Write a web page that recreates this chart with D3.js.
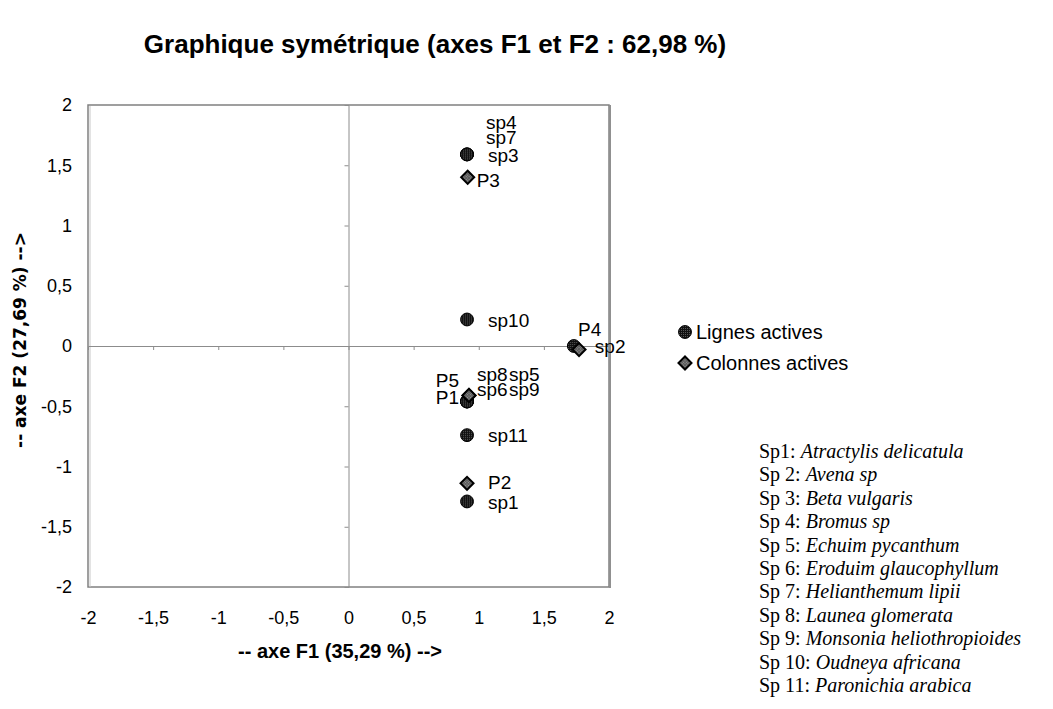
<!DOCTYPE html>
<html>
<head>
<meta charset="utf-8">
<script src="https://cdn.jsdelivr.net/npm/d3@7"></script>
<style>
  body { margin: 0; background: #fff; }
  text { font-family: Arial, "Liberation Sans", sans-serif; }
</style>
</head>
<body>
<div id="chart"></div>
<script>
// data
var rowNames = ['sp1', 'sp2', 'sp3', 'sp4', 'sp5', 'sp6', 'sp7', 'sp8', 'sp9', 'sp10', 'sp11'];
var rowF1 = [0.91, 1.73, 0.91, 0.91, 0.91, 0.91, 0.91, 0.91, 0.91, 0.91, 0.91];
var rowF2 = [-1.29, 0.00, 1.59, 1.59, -0.46, -0.46, 1.59, -0.46, -0.46, 0.22, -0.74];

var colNames = ['P1', 'P2', 'P3', 'P4', 'P5'];
var colF1 = [0.925, 0.91, 0.915, 1.77, 0.925];
var colF2 = [-0.41, -1.14, 1.40, -0.03, -0.41];

var ticks = [-2, -1.5, -1, -0.5, 0, 0.5, 1, 1.5, 2];

var speciesCodes = ['Sp1: ', 'Sp 2: ', 'Sp 3: ', 'Sp 4: ', 'Sp 5: ', 'Sp 6: ', 'Sp 7: ', 'Sp 8: ', 'Sp 9: ', 'Sp 10: ', 'Sp 11: '];
var speciesNames = ['Atractylis delicatula', 'Avena sp', 'Beta vulgaris', 'Bromus sp', 'Echuim pycanthum',
  'Eroduim glaucophyllum', 'Helianthemum lipii', 'Launea glomerata', 'Monsonia heliothropioides',
  'Oudneya africana', 'Paronichia arabica'];

// label placement (pixel offsets from the point)
var labelPos = {
  sp4: [19, -32, 'start'], sp7: [19, -17, 'start'], sp3: [21, 1, 'start'],
  sp10: [21, 1, 'start'], sp2: [21, 0, 'start'], sp11: [21, 0, 'start'], sp1: [21, 1, 'start'],
  sp8: [10, -27, 'start'], sp5: [42, -27, 'start'], sp6: [10, -12, 'start'], sp9: [42, -12, 'start'],
  P3: [9, 3, 'start'], P4: [-1, -20, 'start'], P5: [-10, -15, 'end'], P1: [-10, 2, 'end'], P2: [21, -1, 'start']
};

var width = 1053, height = 709;
var svg = d3.select('#chart').append('svg')
  .attr('width', width)
  .attr('height', height);

var pLeft = 88, pRight = 609, pTop = 105, pBottom = 587;

var x = d3.scaleLinear().domain([-2, 2]).range([pLeft, pRight]);
var y = d3.scaleLinear().domain([-2, 2]).range([pBottom, pTop]);

var fmt = d3.formatLocale({ decimal: ',', thousands: ' ', grouping: [3], currency: ['', ''], minus: '-' }).format('~g');

// title
svg.append('text')
  .attr('x', 435).attr('y', 53)
  .attr('text-anchor', 'middle')
  .style('font-size', '26px').style('font-weight', 'bold')
  .text('Graphique symétrique (axes F1 et F2 : 62,98 %)');

// frame
svg.append('rect')
  .attr('x', pLeft).attr('y', pTop)
  .attr('width', pRight - pLeft).attr('height', pBottom - pTop)
  .attr('fill', 'none').attr('stroke', '#808080').attr('stroke-width', 1.5);
svg.append('line')
  .attr('x1', pLeft + 2).attr('x2', pLeft + 2).attr('y1', pTop + 1).attr('y2', pBottom)
  .attr('stroke', '#c8c8c8').attr('stroke-width', 1);
svg.append('line')
  .attr('x1', pRight + 1).attr('x2', pRight + 1).attr('y1', pTop).attr('y2', pBottom + 1)
  .attr('stroke', '#909090').attr('stroke-width', 2);

// zero lines with small ticks
svg.append('g')
  .attr('transform', 'translate(0,' + y(0) + ')')
  .call(d3.axisBottom(x).tickValues(ticks.slice(1, -1)).tickSize(4).tickFormat(''))
  .call(function(g) {
    g.select('.domain').attr('stroke', '#8c8c8c');
    g.selectAll('.tick line').attr('stroke', '#8c8c8c');
  });
svg.append('g')
  .attr('transform', 'translate(' + x(0) + ',0)')
  .call(d3.axisLeft(y).tickValues(ticks.slice(1, -1)).tickSize(4).tickFormat(''))
  .call(function(g) {
    g.select('.domain').attr('stroke', '#8c8c8c');
    g.selectAll('.tick line').attr('stroke', '#8c8c8c');
  });

// tick labels on the low sides
svg.append('g')
  .attr('transform', 'translate(0,' + pBottom + ')')
  .call(d3.axisBottom(x).tickValues(ticks).tickSize(0).tickPadding(24).tickFormat(fmt))
  .call(function(g) {
    g.select('.domain').remove();
    g.selectAll('text').style('font-size', '18px').attr('fill', '#000')
      .style('font-family', 'Arial, "Liberation Sans", sans-serif');
  });
svg.append('g')
  .attr('transform', 'translate(' + pLeft + ',0)')
  .call(d3.axisLeft(y).tickValues(ticks).tickSize(0).tickPadding(16).tickFormat(fmt))
  .call(function(g) {
    g.select('.domain').remove();
    g.selectAll('text').style('font-size', '18px').attr('fill', '#000')
      .style('font-family', 'Arial, "Liberation Sans", sans-serif');
  });

// axis titles
svg.append('text')
  .attr('x', 340).attr('y', 658)
  .attr('text-anchor', 'middle')
  .style('font-size', '20px').style('font-weight', 'bold')
  .text('-- axe F1 (35,29 %) -->');
svg.append('text')
  .attr('transform', 'translate(26,340) rotate(-90)')
  .attr('text-anchor', 'middle')
  .style('font-size', '17px').style('font-weight', 'bold')
  .style('font-family', '"DejaVu Sans", Verdana, sans-serif')
  .text('-- axe F2 (27,69 %) -->');

// markers
var defs = svg.append('defs');
var pat = defs.append('pattern')
  .attr('id', 'dots').attr('width', 2).attr('height', 2)
  .attr('patternUnits', 'userSpaceOnUse');
pat.append('rect').attr('width', 2).attr('height', 2).attr('fill', '#111');
pat.append('rect').attr('width', 1).attr('height', 1).attr('fill', '#555');

var pat2 = defs.append('pattern')
  .attr('id', 'dots2').attr('width', 2).attr('height', 2)
  .attr('patternUnits', 'userSpaceOnUse');
pat2.append('rect').attr('width', 2).attr('height', 2).attr('fill', '#5a5a5a');
pat2.append('rect').attr('width', 1).attr('height', 1).attr('fill', '#9a9a9a');

var circleSym = d3.symbol().type(d3.symbolCircle).size(130);
var diamondSym = d3.symbol().type(d3.symbolSquare).size(85);

function drawCircle(sel, px, py) {
  sel.append('path')
    .attr('d', circleSym)
    .attr('transform', 'translate(' + px + ',' + py + ')')
    .attr('fill', 'url(#dots)').attr('stroke', '#000').attr('stroke-width', 1);
}
function drawDiamond(sel, px, py) {
  sel.append('path')
    .attr('d', diamondSym)
    .attr('transform', 'translate(' + px + ',' + py + ') rotate(45)')
    .attr('fill', 'url(#dots2)').attr('stroke', '#000').attr('stroke-width', 2);
}

var pts = svg.append('g');
rowNames.forEach(function(n, i) {
  drawCircle(pts, x(rowF1[i]), y(rowF2[i]));
});
colNames.forEach(function(n, i) {
  drawDiamond(pts, x(colF1[i]), y(colF2[i]));
});

// point labels
var labels = svg.append('g').style('font-size', '19px');
function addLabel(n, px, py) {
  var p = labelPos[n];
  labels.append('text')
    .attr('x', px + p[0]).attr('y', py + p[1])
    .attr('dy', '0.35em')
    .attr('text-anchor', p[2])
    .text(n);
}
rowNames.forEach(function(n, i) { addLabel(n, x(rowF1[i]), y(rowF2[i])); });
colNames.forEach(function(n, i) { addLabel(n, x(colF1[i]), y(colF2[i])); });

// legend
var legend = svg.append('g').attr('transform', 'translate(685,332)');
drawCircle(legend, 0, 0);
legend.append('text').attr('x', 11).attr('y', 0).attr('dy', '0.35em')
  .style('font-size', '20px').text('Lignes actives');
drawDiamond(legend, 0, 31);
legend.append('text').attr('x', 11).attr('y', 31).attr('dy', '0.35em')
  .style('font-size', '20px').text('Colonnes actives');

// species key
var key = svg.append('g');
speciesNames.forEach(function(n, i) {
  var t = key.append('text')
    .attr('x', 759).attr('y', 458 + i * 23.4)
    .style('font-family', '"Liberation Serif", "Times New Roman", serif')
    .style('font-size', '20px');
  t.append('tspan').text(speciesCodes[i]);
  t.append('tspan').style('font-style', 'italic').text(n);
});
</script>
</body>
</html>
